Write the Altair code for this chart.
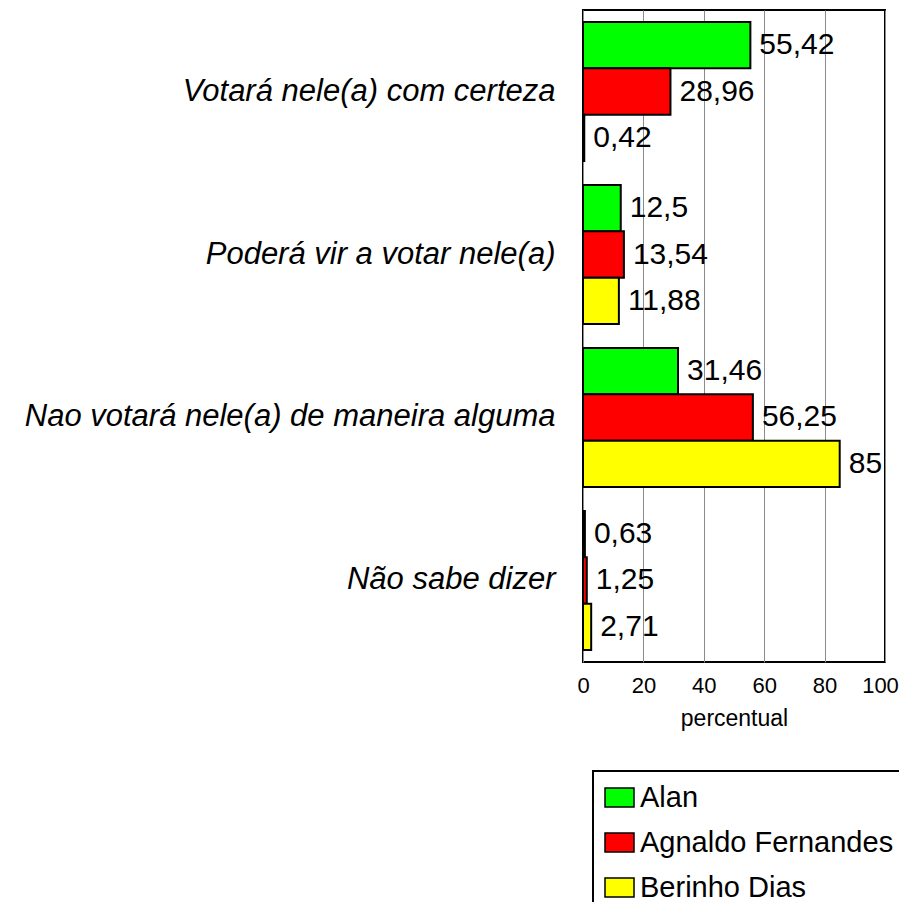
import altair as alt
import pandas as pd

categories = [
    "Votará nele(a) com certeza",
    "Poderá vir a votar nele(a)",
    "Nao votará nele(a) de maneira alguma",
    "Não sabe dizer",
]
candidates = ["Alan", "Agnaldo Fernandes", "Berinho Dias"]
alan = [55.42, 12.5, 31.46, 0.63]
agnaldo = [28.96, 13.54, 56.25, 1.25]
berinho = [0.42, 11.88, 85, 2.71]
colors = ["#00FF00", "#FF0000", "#FFFF00"]
x_ticks = [0, 20, 40, 60, 80, 100]

rows = []
for cand, vals in zip(candidates, [alan, agnaldo, berinho]):
    for cat, v in zip(categories, vals):
        rows.append({"cat": cat, "cand": cand, "value": v,
                     "label": f"{v:g}".replace(".", ",")})
df = pd.DataFrame(rows)

FONT = "Liberation Sans"

y_enc = alt.Y("cat:N", sort=categories,
              scale=alt.Scale(paddingInner=0.147, paddingOuter=0.0736),
              axis=alt.Axis(title=None, labelFontSize=31, labelFontStyle="italic",
                            labelFont=FONT, labelColor="black", labelPadding=28,
                            labelLimit=700, ticks=False, domain=False, grid=False))
yoff = alt.YOffset("cand:N", sort=candidates)
x_enc = alt.X("value:Q",
              scale=alt.Scale(domain=[0, 100], nice=False),
              axis=alt.Axis(title="percentual", values=x_ticks, tickSize=0,
                            labelFlush=False, labelOverlap=False,
                            labelOffset={"condition": {"test": "datum.value === 100",
                                                       "value": -5},
                                         "value": 0},
                            labelPadding=13, labelFontSize=22, labelFont=FONT,
                            labelColor="black", titleFontSize=23, titleFont=FONT,
                            titleFontWeight="normal", titleColor="black",
                            titlePadding=11, domain=False, grid=True,
                            gridColor="#8c8c8c", gridWidth=1))

base = alt.Chart(df)

bars = base.mark_bar(stroke="black", strokeWidth=2).encode(
    x=x_enc, y=y_enc, yOffset=yoff,
    fill=alt.Fill("cand:N", sort=candidates,
                  scale=alt.Scale(domain=candidates, range=colors),
                  legend=alt.Legend(title=None)))

labels = base.mark_text(align="left", baseline="middle", dx=9, fontSize=30,
                        font=FONT, color="black").encode(
    x=x_enc, y=y_enc, yOffset=yoff, text="label:N")

chart = alt.layer(bars, labels).properties(
    width=302, height=652,
    autosize=alt.AutoSizeParams(type="none"),
    padding={"left": 575, "top": 2, "right": 14, "bottom": 240},
).configure_view(
    stroke="black", strokeWidth=2
).configure_legend(
    orient="none", legendX=10, legendY=761, padding=11, rowPadding=14,
    labelFontSize=29, labelFont=FONT, labelColor="black", labelOffset=5,
    symbolType="M-1,-0.655L1,-0.655L1,0.655L-1,0.655Z", symbolSize=841,
    symbolStrokeColor="black", symbolStrokeWidth=1.5,
    strokeColor="black", strokeWidth=2, fillColor="white", cornerRadius=0,
    labelLimit=600
)

chart.save("out.html", embed_options={"renderer": "svg", "actions": False})
